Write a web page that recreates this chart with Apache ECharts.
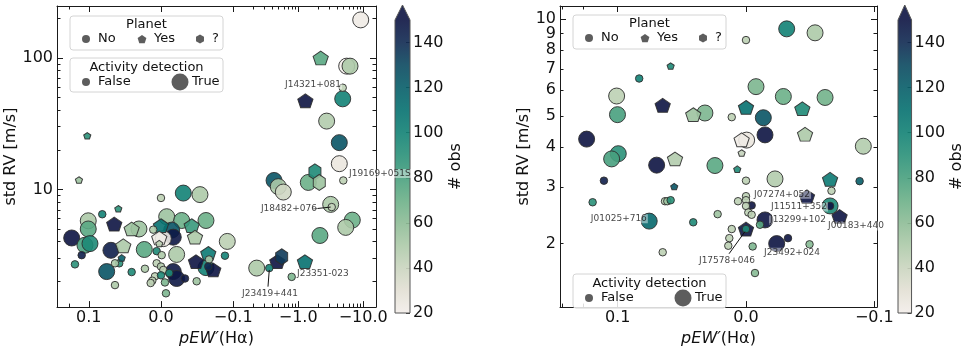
<!DOCTYPE html>
<html><head><meta charset="utf-8">
<script src="https://cdn.jsdelivr.net/npm/echarts@6/dist/echarts.min.js"></script>
<style>html,body{margin:0;padding:0;background:#fff}#c{width:966px;height:352px}</style>
</head><body><div id="c"></div>
<script>
// ---------------- data: left panel ----------------
const leftPEW = [-9.16,-2.22,-5.57,-6.27,-4.84,-4.84,-1.29,-2.74,-4.29,-4.29,
 -4.94,-1.81,-1.43,-2.11,-0.425,-0.494,-0.590,-3.16,-3.28,-6.80,
 -5.38,-2.16,-1.27,-0.557,-0.477,-0.230,-0.359,-0.794,0.1054,0.1415,
 0,-0.0309,-0.0540,0.0591,0.0813,0.1018,0.1018,0.0647,0.0406,0.0305,
 -0.0079,-0.0287,-0.0623,0,-0.0148,0.0107,-0.0425,-0.0471,-0.0170,0.0024,
 -0.0032,0.0024,0.183,0.1144,0.0983,0.1285,0.163,0.0693,0.0522,0.0231,
 0.0060,-0.0217,-0.0010,0.0544,0.0578,0.0637,0.0752,0.0406,0.0222,0.0060,
 0,-0.0032,0.0083,0.0120,0.0143,0,-0.0055,-0.0069,-0.0170,-0.0217,
 -0.0115,-0.0332,-0.0494,0.0637,-0.0918,-0.0655,-0.0665,-0.0886,-0.0485,-0.0623,
 -0.0724,-0.0655];
const leftRV = [195,100,86.7,86.7,59.4,48.9,47.2,33.1,22.7,15.7,
 11.7,13.6,11.3,11.3,11.7,10.5,9.55,7.69,7.34,5.84,
 5.14,4.46,2.82,3.07,2.82,2.52,2.52,2.16,25.6,11.8,
 8.61,9.38,9.13,7.13,6.47,5.77,5.0,5.45,5.0,5.0,
 6.2,5.8,5.8,5.3,4.9,4.94,5.3,4.33,4.33,4.27,
 4.22,3.87,4.27,3.76,3.87,3.16,2.69,3.44,3.72,3.49,
 3.39,3.20,3.16,3.01,2.74,2.74,2.37,2.35,2.49,2.74,
 2.59,2.44,2.18,2.02,1.94,2.22,1.96,1.62,2.37,2.10,
 2.31,2.10,2.0,1.87,4.02,3.26,2.93,3.13,2.82,2.54,
 2.44,2.59];
const leftNObs = [22,75,20,50,45,100,150,48,125,25,
 45,95,70,55,125,50,38,50,42,70,
 50,75,110,135,150,50,100,65,90,55,
 45,100,50,90,100,50,75,150,55,55,
 55,70,70,110,125,50,85,50,148,22,
 22,45,150,80,95,145,90,145,50,75,
 95,50,50,120,90,50,125,95,50,45,
 48,45,45,45,45,95,65,65,148,148,
 95,148,55,50,45,105,50,100,150,100,
 150,140];
const leftPlanet = ['No','Yes','No','No','No','No','Yes','No','No','No',
 'No','?','No','?','No','No','No','No','No','No',
 'No','No','Yes','?','Yes','No','No','No','Yes','Yes',
 'No','No','No','Yes','No','No','No','Yes','Yes','No',
 'No','No','No','Yes','No','No','Yes','Yes','No','Yes',
 'No','Yes','No','No','No','No','No','No','Yes','No',
 'No','No','No','Yes','No','No','No','No','No','No',
 'No','No','No','No','No','No','No','No','No','No',
 'No','No','No','No','No','Yes','No','No','Yes','No',
 'Yes','No'];
const leftActive = [1,1,1,1,0,1,1,1,1,1,
 0,1,1,1,1,1,1,1,0,1,
 1,1,1,1,1,1,0,0,0,0,
 0,1,1,0,0,1,1,1,1,1,
 1,1,1,1,1,0,1,1,1,1,
 1,0,1,1,1,0,0,1,1,1,
 0,1,0,0,0,0,1,0,0,0,
 0,0,0,0,0,0,0,0,1,1,
 0,0,0,0,1,1,0,0,1,1,
 1,0];

// ---------------- data: right panel ----------------
const rightPEW = [-0.0317,-0.0538,0,0.0587,0.0832,-0.0078,0.102,-0.0291,-0.0616,0.0649,
 0,-0.0439,0.1003,0.0411,0.0320,0.0111,-0.0135,-0.0148,-0.0460,0.1855,
 0.0034,-0.0005,-0.0914,0.0034,0.0995,0.1127,0.0553,0.0696,0.0242,0.0068,
 0.1314,0.0559,-0.0226,0,-0.0655,-0.0885,-0.0666,0.1646,0.0631,0.0613,
 0.0587,-0.0475,0,0.0062,0,-0.0044,0,-0.0655,-0.0655,-0.0729,
 0.0754,0.0221,-0.0018,-0.0044,-0.0148,-0.0109,0.0411,0.0111,0,0,
 0.0130,0.0138,-0.0052,-0.0239,-0.0327,-0.0495,0.0649,-0.0070];
const rightRV = [9.32,9.06,8.60,7.14,6.53,6.16,5.76,5.74,5.70,5.39,
 5.31,5.26,5.04,5.04,5.10,4.95,4.93,4.36,4.38,4.23,
 4.21,4.20,4.02,3.83,3.81,3.67,3.67,3.51,3.50,3.41,
 3.14,3.01,3.18,3.14,3.17,3.13,2.92,2.69,2.71,2.71,
 2.73,2.80,2.81,2.71,2.73,2.63,2.62,2.62,2.62,2.43,
 2.35,2.47,2.50,2.46,2.37,2.29,2.33,2.22,2.22,2.22,
 2.08,1.97,1.96,2.00,2.08,1.99,1.88,1.62];
const rightNObs = [100,50,45,95,100,65,45,70,68,150,
 110,95,80,55,65,45,125,150,50,150,
 22,25,48,42,90,80,48,150,75,95,
 145,125,48,45,105,120,45,90,45,55,
 90,150,45,45,45,150,45,95,150,150,
 115,55,45,45,150,75,95,45,150,95,
 45,45,65,150,150,62,45,62];
const rightPlanet = ['No','No','No','Yes','No','No','No','No','No','Yes',
 'Yes','Yes','No','Yes','No','No','No','No','Yes','No',
 'Yes','No','No','Yes','No','No','Yes','No','No','Yes',
 'No','Yes','No','No','Yes','No','No','No','No','No',
 'No','Yes','No','No','No','No','No','No','No','Yes',
 'No','No','No','No','No','No','No','No','Yes','No',
 'No','No','No','No','No','No','No','No'];
const rightActive = [1,1,0,0,0,1,1,1,1,1,
 1,1,1,1,1,0,1,1,1,1,
 1,1,1,0,1,1,1,1,1,0,
 0,0,1,0,1,0,0,0,0,0,
 0,1,0,0,0,0,0,1,0,1,
 1,0,0,0,1,0,0,0,1,0,
 0,0,0,1,0,0,0,0];

// ---------------- annotations ----------------
const leftAnnoText = ['J14321+081','J19169+051S','J18482+076','J23351-023','J23419+441'];
const leftAnnoPEW = [-0.605,-5.84,-0.258,-0.925,-0.132];
const leftAnnoRV = [62.8,13.2,7.10,2.28,1.62];
const leftLeaderPEW = [[-1.69,-3.16],[-0.343,-0.359]];
const leftLeaderRV = [[7.10,7.34],[1.82,2.44]];
const rightAnnoText = ['J07274+052','J11511+352','J13299+102','J00183+440','J01025+716','J23492+024','J17578+046'];
const rightAnnoPEW = [-0.0055,-0.0187,-0.0179,-0.0631,0.174,-0.0133,0.0374];
const rightAnnoRV = [2.85,2.60,2.37,2.27,2.39,1.88,1.77];
const rightLeaderPEW = [[0.0132,0.0008]];
const rightLeaderRV = [[1.86,2.18]];

// ---------------- axes: ranges and ticks ----------------
const leftXRange = [-15.74, 0.308];
const leftYRange = [1.272, 248.7];
const rightXRange = [-0.1054, 0.3154];
const rightYRange = [1.269, 10.98];
const leftXMajor = [0.1, 0, -0.1, -1, -10];
const leftXMinor = [0.3,0.2,-0.2,-0.3,-0.4,-0.5,-0.6,-0.7,-0.8,-0.9,-2,-3,-4,-5,-6,-7,-8,-9];
const rightXMajor = [0.1, 0, -0.1];
const rightXMinor = [0.3, 0.2];
const leftYMajor = [10, 100];
const leftYMinor = [2,3,4,5,6,7,8,9,20,30,40,50,60,70,80,90,200];
const leftYLabels = [10, 100];
const leftYLabelsExtra = [];
const rightYMajor = [10];
const rightYMinor = [2,3,4,5,6,7,8,9];
const rightYLabels = [2,3,4,5,6,7,8,10];
const rightYLabelsExtra = [9];
const cbRange = [20, 150];
const cbTicks = [20,40,60,80,100,120,140];

// colormap (tempo-like), evenly spaced over cbRange
const cmap = ['#f3eeea','#e3e0d4','#cad5bf','#adcaa9','#8dbc96','#6bb088','#48a07e',
  '#2a9179','#128275','#067170','#075e69','#0b4960','#102a52','#0d1443'];

// ---------------- helpers ----------------
const FONT = 'DejaVu Sans';
const LIN = 0.1, LSC = 1/(1-1/10);
function symlog(v){const a=Math.abs(v), s=v<0?-1:1; return a<=LIN ? s*a/LIN*LSC : s*(LSC+Math.log10(a/LIN));}
function invSymlog(t){const a=Math.abs(t), s=t<0?-1:1; return a<=LSC ? s*a/LSC*LIN : s*LIN*Math.pow(10,a-LSC);}
const lg = Math.log10;
function fmtX(v){const x=invSymlog(v); if(Math.abs(x)<1e-9) return '0.0'; return (x<0?'\u2212':'')+Math.abs(x).toFixed(1);}
function fmtY(v){return String(Math.round(Math.pow(10,v)));}

const PANELS = [
 {pew:leftPEW, rv:leftRV, n:leftNObs, pl:leftPlanet, act:leftActive, xr:leftXRange, yr:leftYRange,
  xMaj:leftXMajor, xMin:leftXMinor, yMaj:leftYMajor, yMin:leftYMinor, yLab:leftYLabels, yLab2:leftYLabelsExtra,
  aT:leftAnnoText, aX:leftAnnoPEW, aY:leftAnnoRV, lX:leftLeaderPEW, lY:leftLeaderRV,
  grid:{left:57, top:6, width:319, height:307}, yNameGap:27},
 {pew:rightPEW, rv:rightRV, n:rightNObs, pl:rightPlanet, act:rightActive, xr:rightXRange, yr:rightYRange,
  xMaj:rightXMajor, xMin:rightXMinor, yMaj:rightYMajor, yMin:rightYMinor, yLab:rightYLabels, yLab2:rightYLabelsExtra,
  aT:rightAnnoText, aX:rightAnnoPEW, aY:rightAnnoRV, lX:rightLeaderPEW, lY:rightLeaderRV,
  grid:{left:560, top:6, width:317, height:307}, yNameGap:24}
];
const CBARS = [{left:395}, {left:898}];

const SHAPES = {
 'No': {symbol:'circle', k:[1,1]},
 'Yes': {symbol:'path://M0,-100L95.1,-30.9L58.8,80.9L-58.8,80.9L-95.1,-30.9Z', k:[0.951,0.905]},
 '?': {symbol:'path://M0,-100L86.6,-50L86.6,50L0,100L-86.6,50L-86.6,-50Z', k:[0.866,1]}
};
const D_BIG = 16, D_SMALL = 7.5;
const AX_COLOR = '#1a1a1a';

const grids = [], xAxis = [], yAxis = [], series = [], scatterIdx = [];
PANELS.forEach((P,g)=>{
  grids.push(Object.assign({containLabel:false}, P.grid));
  const bx = {type:'value', gridIndex:g, min:symlog(P.xr[0]), max:symlog(P.xr[1]), inverse:true, splitLine:{show:false}, silent:true};
  const tickMaj = {show:true, inside:true, length:6, customValues:P.xMaj.map(symlog), lineStyle:{color:AX_COLOR, width:1}};
  const tickMin = {show:true, inside:true, length:3.5, customValues:P.xMin.map(symlog), lineStyle:{color:AX_COLOR, width:1}};
  const line = {show:true, onZero:false, lineStyle:{color:AX_COLOR, width:1}};
  xAxis.push(Object.assign({}, bx, {position:'bottom', axisLine:line, axisTick:tickMaj,
    axisLabel:{show:true, customValues:P.xMaj.map(symlog), formatter:fmtX, fontSize:16, color:'#111', margin:3, fontFamily:FONT,
      showMinLabel:true, showMaxLabel:true, hideOverlap:false},
    name:'{i|pEW\u2032}{n|(H\u03b1)}', nameLocation:'middle', nameGap:19,
    nameTextStyle:{color:'#111', rich:{i:{fontStyle:'italic', fontSize:16, fontFamily:FONT, color:'#111'}, n:{fontSize:16, fontFamily:FONT, color:'#111'}}}}));
  xAxis.push(Object.assign({}, bx, {position:'bottom', axisLine:{show:false, onZero:false}, axisTick:tickMin, axisLabel:{show:false}}));
  xAxis.push(Object.assign({}, bx, {position:'top', axisLine:line, axisTick:tickMaj, axisLabel:{show:false}}));
  xAxis.push(Object.assign({}, bx, {position:'top', axisLine:{show:false, onZero:false}, axisTick:tickMin, axisLabel:{show:false}}));

  const by = {type:'value', gridIndex:g, min:lg(P.yr[0]), max:lg(P.yr[1]), splitLine:{show:false}, silent:true};
  const yTickMaj = {show:true, inside:true, length:6, customValues:P.yMaj.map(lg), lineStyle:{color:AX_COLOR, width:1}};
  const yTickMin = {show:true, inside:true, length:3.5, customValues:P.yMin.map(lg), lineStyle:{color:AX_COLOR, width:1}};
  const yLabelBase = {formatter:fmtY, fontSize:16, color:'#111', margin:4, fontFamily:FONT, showMinLabel:true, showMaxLabel:true, hideOverlap:false};
  yAxis.push(Object.assign({}, by, {position:'left', axisLine:line, axisTick:yTickMaj,
    axisLabel:Object.assign({show:true, customValues:P.yLab.map(lg)}, yLabelBase),
    name:'std RV [m/s]', nameLocation:'middle', nameGap:P.yNameGap, nameRotate:90,
    nameTextStyle:{fontSize:16, color:'#111', fontFamily:FONT}}));
  yAxis.push(Object.assign({}, by, {position:'left', axisLine:{show:false, onZero:false}, axisTick:yTickMin,
    axisLabel:P.yLab2.length ? Object.assign({show:true, customValues:P.yLab2.map(lg)}, yLabelBase) : {show:false}}));
  yAxis.push(Object.assign({}, by, {position:'right', axisLine:line, axisTick:yTickMaj, axisLabel:{show:false}}));
  yAxis.push(Object.assign({}, by, {position:'right', axisLine:{show:false, onZero:false}, axisTick:yTickMin, axisLabel:{show:false}}));
});
CBARS.forEach((c,k)=>{
  grids.push({left:c.left, top:20, width:15, height:293});
  xAxis.push({type:'value', gridIndex:2+k, min:0, max:1, show:false});
  yAxis.push({type:'value', gridIndex:2+k, position:'right', min:cbRange[0], max:cbRange[1], splitLine:{show:false},
    axisLine:{show:false, onZero:false},
    axisTick:{show:true, inside:true, length:4, customValues:cbTicks, lineStyle:{color:'#333'}},
    axisLabel:{show:true, customValues:cbTicks, fontSize:16, color:'#111', margin:3, fontFamily:FONT, showMinLabel:true, showMaxLabel:true},
    name:'# obs', nameLocation:'middle', nameGap:33, nameRotate:90, nameTextStyle:{fontSize:16, color:'#111', fontFamily:FONT}});
});

// scatter series (large markers first, small on top)
PANELS.forEach((P,g)=>{
  [1,0].forEach(a=>{
    ['No','Yes','?'].forEach(pl=>{
      const data=[];
      P.pew.forEach((x,i)=>{ if(P.pl[i]===pl && P.act[i]===a) data.push([symlog(x), lg(P.rv[i]), P.n[i]]); });
      if(!data.length) return;
      const D = a ? D_BIG : D_SMALL, sh = SHAPES[pl];
      series.push({type:'scatter', xAxisIndex:g*4, yAxisIndex:g*4, symbol:sh.symbol,
        symbolSize:[D*sh.k[0], D*sh.k[1]], symbolKeepAspect:true, data,
        itemStyle:{borderColor:'#2e2e2e', borderWidth:1, opacity:0.9}, emphasis:{disabled:true}, silent:true, z:2});
      scatterIdx.push(series.length-1);
    });
  });
});
// leader lines and annotation labels
PANELS.forEach((P,g)=>{
  P.lX.forEach((xs,j)=>{
    series.push({type:'line', xAxisIndex:g*4, yAxisIndex:g*4, symbol:'none', silent:true, z:4,
      data: xs.map((x,m)=>[symlog(x), lg(P.lY[j][m])]), lineStyle:{color:'#111', width:1}, animation:false});
  });
  series.push({type:'scatter', xAxisIndex:g*4, yAxisIndex:g*4, symbolSize:0, silent:true, z:5, clip:false,
    data: P.aT.map((t,j)=>({name:t, value:[symlog(P.aX[j]), lg(P.aY[j])]})),
    label:{show:true, position:'right', distance:0, formatter:'{b}', fontSize:9, fontFamily:FONT, color:'#111',
      backgroundColor:'rgba(255,255,255,0.55)', padding:[0,1]}});
});
// colorbars
CBARS.forEach((c,k)=>{
  series.push({type:'custom', xAxisIndex:8+k, yAxisIndex:8+k, silent:true, clip:false, z:1,
    data:[[0, cbRange[0], 1, cbRange[1]]],
    renderItem:(params, api)=>{
      const p0 = api.coord([api.value(0), api.value(1)]);
      const p1 = api.coord([api.value(2), api.value(3)]);
      const x0=p0[0], x1=p1[0], yb=p0[1], yt=p1[1], ext=15, xm=(x0+x1)/2;
      const grad = new echarts.graphic.LinearGradient(0,1,0,0, cmap.map((col,i)=>({offset:i/(cmap.length-1), color:col})));
      return {type:'group', children:[
        {type:'rect', shape:{x:x0, y:yt, width:x1-x0, height:yb-yt}, style:{fill:grad, opacity:0.9}},
        {type:'polygon', shape:{points:[[x0,yt],[x1,yt],[xm,yt-ext]]}, style:{fill:cmap[cmap.length-1], opacity:0.9}},
        {type:'polygon', shape:{points:[[x0,yb],[x0,yt],[xm,yt-ext],[x1,yt],[x1,yb]]}, style:{fill:'none', stroke:'#555', lineWidth:1}}
      ]};
    }});
});

// ---------------- legends (graphic) ----------------
function regPoly(cx,cy,r,n){const pts=[];for(let k=0;k<n;k++){const a=-Math.PI/2+2*Math.PI*k/n;pts.push([cx+r*Math.cos(a),cy+r*Math.sin(a)]);}return pts;}
const LFILL = 'rgba(75,75,75,0.9)';
function txt(x,y,s,align){return {type:'text', x, y, z:100, style:{text:s, font:'13px "DejaVu Sans"', fill:'#111', align:align||'left', verticalAlign:'middle', textAlign:align||'left', textVerticalAlign:'middle'}};}
function box(x,y,w,h){return {type:'rect', z:99, shape:{x,y,width:w,height:h,r:3}, style:{fill:'rgba(255,255,255,0.85)', stroke:'#d4d4d4', lineWidth:1}};}
function circ(cx,cy,r){return {type:'circle', z:100, shape:{cx,cy,r}, style:{fill:LFILL}};}
function pg(pts){return {type:'polygon', z:100, shape:{points:pts}, style:{fill:LFILL}};}
function planetLegend(x,y){
  return [box(x,y,153,34), txt(x+76.5,y+8.5,'Planet','center'),
    circ(x+16,y+23,4), txt(x+28,y+23,'No'),
    pg(regPoly(x+72,y+23.5,4.6,5)), txt(x+84,y+23,'Yes'),
    pg(regPoly(x+130,y+23,4.6,6)), txt(x+142,y+23,'?')];
}
function activityLegend(x,y){
  return [box(x,y,153,34), txt(x+76.5,y+9.5,'Activity detection','center'),
    circ(x+16,y+24,4), txt(x+28,y+24,'False'),
    circ(x+110,y+24,8.5), txt(x+122,y+24,'True')];
}
const graphicEls = [].concat(planetLegend(70,16), activityLegend(70,58), planetLegend(573,15), activityLegend(573,274));

const chart = echarts.init(document.getElementById('c'), null, {renderer:'canvas'});
chart.setOption({
  animation:false,
  textStyle:{fontFamily:FONT},
  grid:grids, xAxis, yAxis, series,
  visualMap:[{type:'continuous', show:false, min:cbRange[0], max:cbRange[1], dimension:2, seriesIndex:scatterIdx, inRange:{color:cmap}}],
  graphic:{elements:graphicEls}
});
</script></body></html>
